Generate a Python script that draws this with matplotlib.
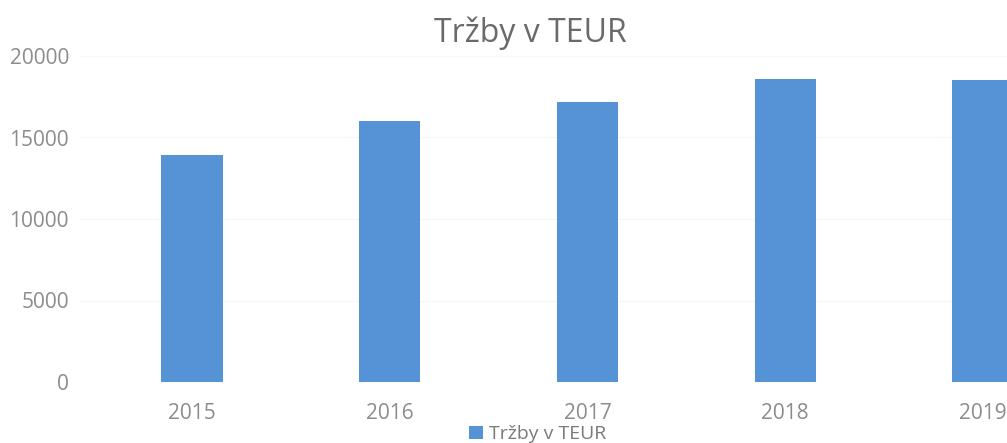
import numpy as np
import matplotlib.pyplot as plt

# data
years = ['2015', '2016', '2017', '2018', '2019']
trzby = [13900, 16000, 17200, 18600, 18550]

plt.rcParams['font.family'] = ['Open Sans', 'DejaVu Sans']

W, H = 1007, 443
fig = plt.figure(figsize=(W / 100, H / 100), dpi=100)
left_px, right_px = 80, W
ax = fig.add_axes([left_px / W, (H - 382) / H, (right_px - left_px) / W, 326 / H])

x = np.arange(len(years))
ax.bar(x, trzby, width=0.31, color='#5592d6', label='Tržby v TEUR', zorder=3)

# 2015 centre at px 192, 2019 centre at px 983
step = (983 - 192) / 4
ax.set_xlim((left_px - 192) / step, (right_px - 192) / step)
ax.set_ylim(0, 20000)
ax.set_yticks([0, 5000, 10000, 15000, 20000])
ax.set_xticks(x)
ax.set_xticklabels(years)
ax.grid(axis='y', color='#f6f6f6', linewidth=0.8, zorder=0)
for s in ax.spines.values():
    s.set_visible(False)
ax.tick_params(length=0, labelsize=15, labelcolor='#8c8c8c')
ax.tick_params(axis='y', pad=8)
ax.tick_params(axis='x', pad=15)

fig.text(0.527, 0.925, 'Tržby v TEUR', ha='center', va='center', fontsize=23, color='#6a6a6a')
fig.legend(loc='center', bbox_to_anchor=(0.534, 0.02), frameon=False, fontsize=14,
           labelcolor='#7a7a7a', handlelength=0.7, handleheight=0.7, handletextpad=0.3,
           borderpad=0)

fig.savefig('out.png', dpi=100)
